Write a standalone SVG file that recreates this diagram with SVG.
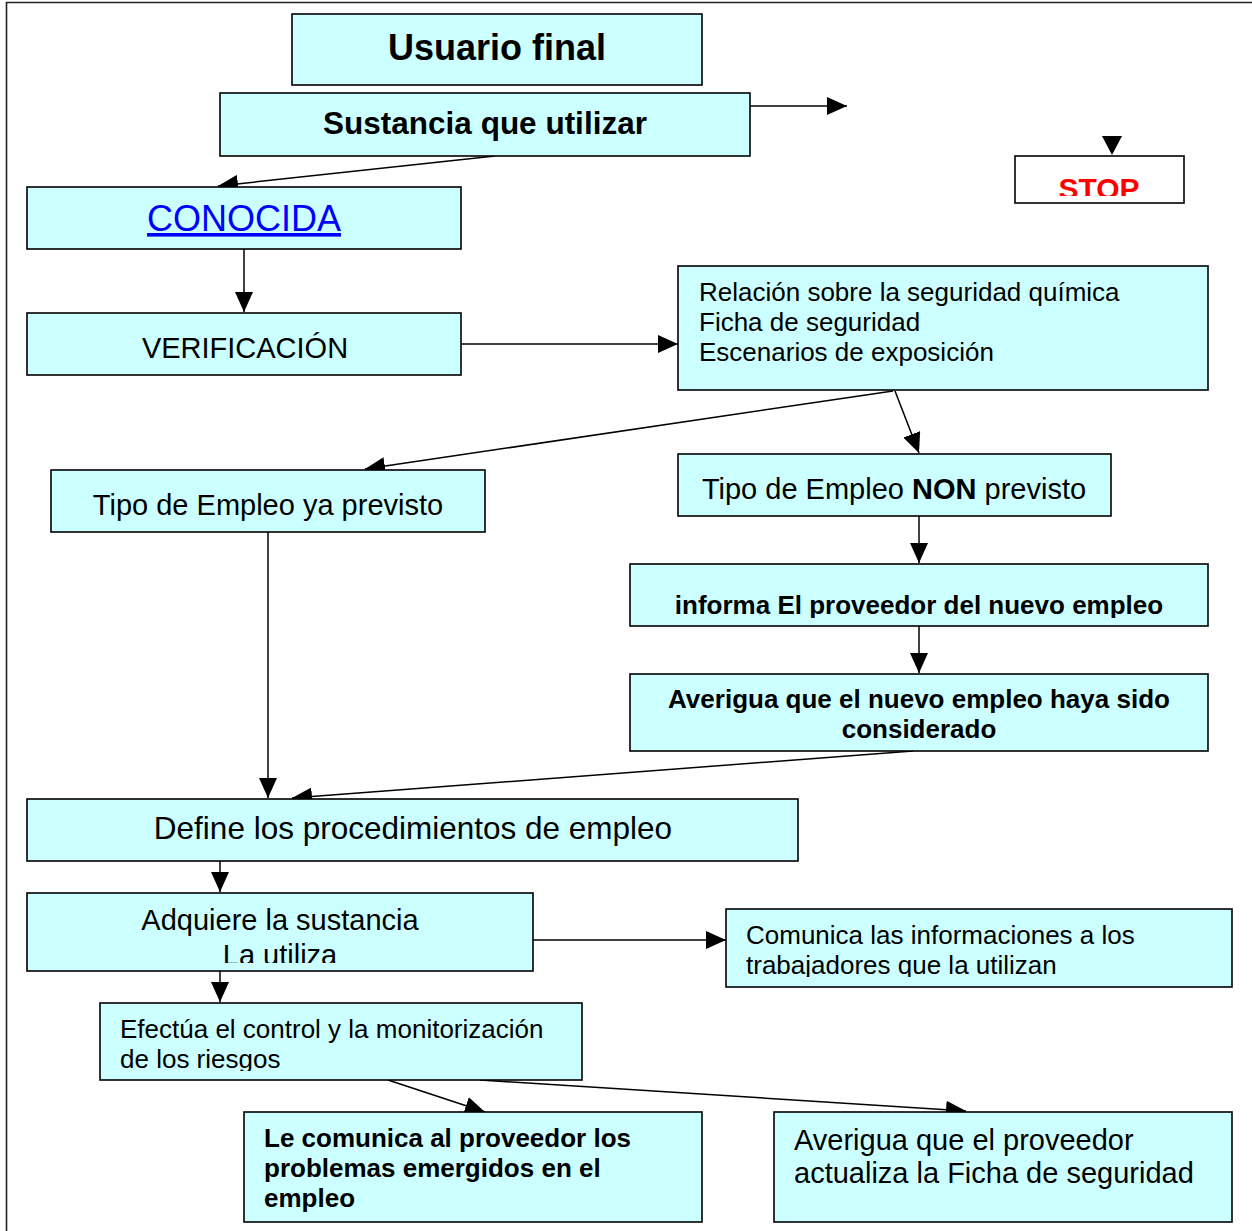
<svg xmlns="http://www.w3.org/2000/svg" width="1252" height="1231" viewBox="0 0 1252 1231">
<style>
.box{fill:#CCFFFF;stroke:#000;stroke-width:1.6}
.stop{fill:#fff;stroke:#000;stroke-width:1.6}
.t{font-family:"Liberation Sans",Arial,sans-serif;fill:#000}
.b{font-weight:bold}
.c{text-anchor:middle}
.con{stroke:#000;stroke-width:1.5;fill:none;marker-end:url(#ah)}
</style>
<defs>
<marker id="ah" viewBox="0 0 20 18" refX="20" refY="9" markerWidth="20" markerHeight="18" markerUnits="userSpaceOnUse" orient="auto">
<path d="M0,0 L20,9 L0,18 z" fill="#000"/>
</marker>
<clipPath id="cStop"><rect x="1015" y="150" width="170" height="46"/></clipPath>
<clipPath id="cInf"><rect x="630" y="560" width="580" height="58"/></clipPath>
<clipPath id="cAdq"><rect x="27" y="890" width="507" height="73"/></clipPath>
<clipPath id="cCom"><rect x="726" y="905" width="507" height="72"/></clipPath>
<clipPath id="cEfe"><rect x="100" y="1000" width="483" height="71"/></clipPath>
</defs>
<path d="M6.5,1231 V2.5 H1252" fill="none" stroke="#222" stroke-width="1.6"/>
<g id="connectors">
<line class="con" x1="750" y1="106" x2="847" y2="106"/>
<polygon points="1102,136 1122,136 1112,155" fill="#000"/>
<line class="con" x1="495" y1="156" x2="218" y2="186"/>
<line class="con" x1="244" y1="249" x2="244" y2="312"/>
<line class="con" x1="461" y1="344" x2="678" y2="344"/>
<line class="con" x1="893" y1="391" x2="365" y2="469"/>
<line class="con" x1="895" y1="391" x2="919" y2="453"/>
<line class="con" x1="919" y1="516" x2="919" y2="563"/>
<line class="con" x1="919" y1="626" x2="919" y2="673"/>
<line class="con" x1="268" y1="532" x2="268" y2="798"/>
<line class="con" x1="913" y1="751" x2="292" y2="798"/>
<line class="con" x1="220" y1="861" x2="220" y2="892"/>
<line class="con" x1="533" y1="940" x2="726" y2="940"/>
<line class="con" x1="220" y1="971" x2="220" y2="1002"/>
<line class="con" x1="388" y1="1080" x2="485" y2="1112"/>
<line class="con" x1="480" y1="1080" x2="966" y2="1111"/>
</g>
<g id="usuario">
<rect class="box" x="292" y="14" width="410" height="71"/>
<text class="t b c" x="497" y="60" font-size="36">Usuario final</text>
</g>
<g id="sustancia">
<rect class="box" x="220" y="93" width="530" height="63"/>
<text class="t b c" x="485" y="134" font-size="31.5">Sustancia que utilizar</text>
</g>
<g id="stop">
<rect class="stop" x="1015" y="156" width="169" height="47"/>
<text class="t b c" x="1099" y="199" font-size="30" style="fill:#FF0000" clip-path="url(#cStop)">STOP</text>
</g>
<g id="conocida">
<rect class="box" x="27" y="187" width="434" height="62"/>
<text class="c" x="244" y="231" font-size="36" font-family="Liberation Sans, Arial, sans-serif" fill="#0000FF" text-decoration="underline">CONOCIDA</text>
</g>
<g id="verificacion">
<rect class="box" x="27" y="313" width="434" height="62"/>
<text class="t c" x="245" y="358" font-size="29">VERIFICACIÓN</text>
</g>
<g id="relacion">
<rect class="box" x="678" y="266" width="530" height="124"/>
<text class="t" x="699" y="301" font-size="26">Relación sobre la seguridad química</text>
<text class="t" x="699" y="331" font-size="26">Ficha de seguridad</text>
<text class="t" x="699" y="361" font-size="26">Escenarios de exposición</text>
</g>
<g id="tipo-previsto">
<rect class="box" x="51" y="470" width="434" height="62"/>
<text class="t c" x="268" y="515" font-size="29">Tipo de Empleo ya previsto</text>
</g>
<g id="tipo-non">
<rect class="box" x="678" y="454" width="433" height="62"/>
<text class="t c" x="894" y="499" font-size="29">Tipo de Empleo <tspan font-weight="bold">NON</tspan> previsto</text>
</g>
<g id="informa">
<rect class="box" x="630" y="564" width="578" height="62"/>
<text class="t b c" x="919" y="614" font-size="26" clip-path="url(#cInf)">informa El proveedor del nuevo empleo</text>
</g>
<g id="averigua-nuevo">
<rect class="box" x="630" y="674" width="578" height="77"/>
<text class="t b c" x="919" y="708" font-size="26">Averigua que el nuevo empleo haya sido</text>
<text class="t b c" x="919" y="738" font-size="26">considerado</text>
</g>
<g id="define">
<rect class="box" x="27" y="799" width="771" height="62"/>
<text class="t c" x="413" y="839" font-size="31.5">Define los procedimientos de empleo</text>
</g>
<g id="adquiere">
<rect class="box" x="27" y="893" width="506" height="78"/>
<g clip-path="url(#cAdq)">
<text class="t c" x="280" y="930" font-size="29">Adquiere la sustancia</text>
<text class="t c" x="280" y="965" font-size="29">La utiliza</text>
</g>
</g>
<g id="comunica">
<rect class="box" x="726" y="909" width="506" height="78"/>
<g clip-path="url(#cCom)">
<text class="t" x="746" y="944" font-size="26">Comunica las informaciones a los</text>
<text class="t" x="746" y="974" font-size="26">trabajadores que la utilizan</text>
</g>
</g>
<g id="efectua">
<rect class="box" x="100" y="1003" width="482" height="77"/>
<g clip-path="url(#cEfe)">
<text class="t" x="120" y="1038" font-size="26">Efectúa el control y la monitorización</text>
<text class="t" x="120" y="1068" font-size="26">de los riesgos</text>
</g>
</g>
<g id="le-comunica">
<rect class="box" x="244" y="1112" width="458" height="110"/>
<text class="t b" x="264" y="1147" font-size="26">Le comunica al proveedor los</text>
<text class="t b" x="264" y="1177" font-size="26">problemas emergidos en el</text>
<text class="t b" x="264" y="1207" font-size="26">empleo</text>
</g>
<g id="averigua-proveedor">
<rect class="box" x="774" y="1112" width="458" height="110"/>
<text class="t" x="794" y="1150" font-size="29">Averigua que el proveedor</text>
<text class="t" x="794" y="1183" font-size="29">actualiza la Ficha de seguridad</text>
</g>
</svg>
